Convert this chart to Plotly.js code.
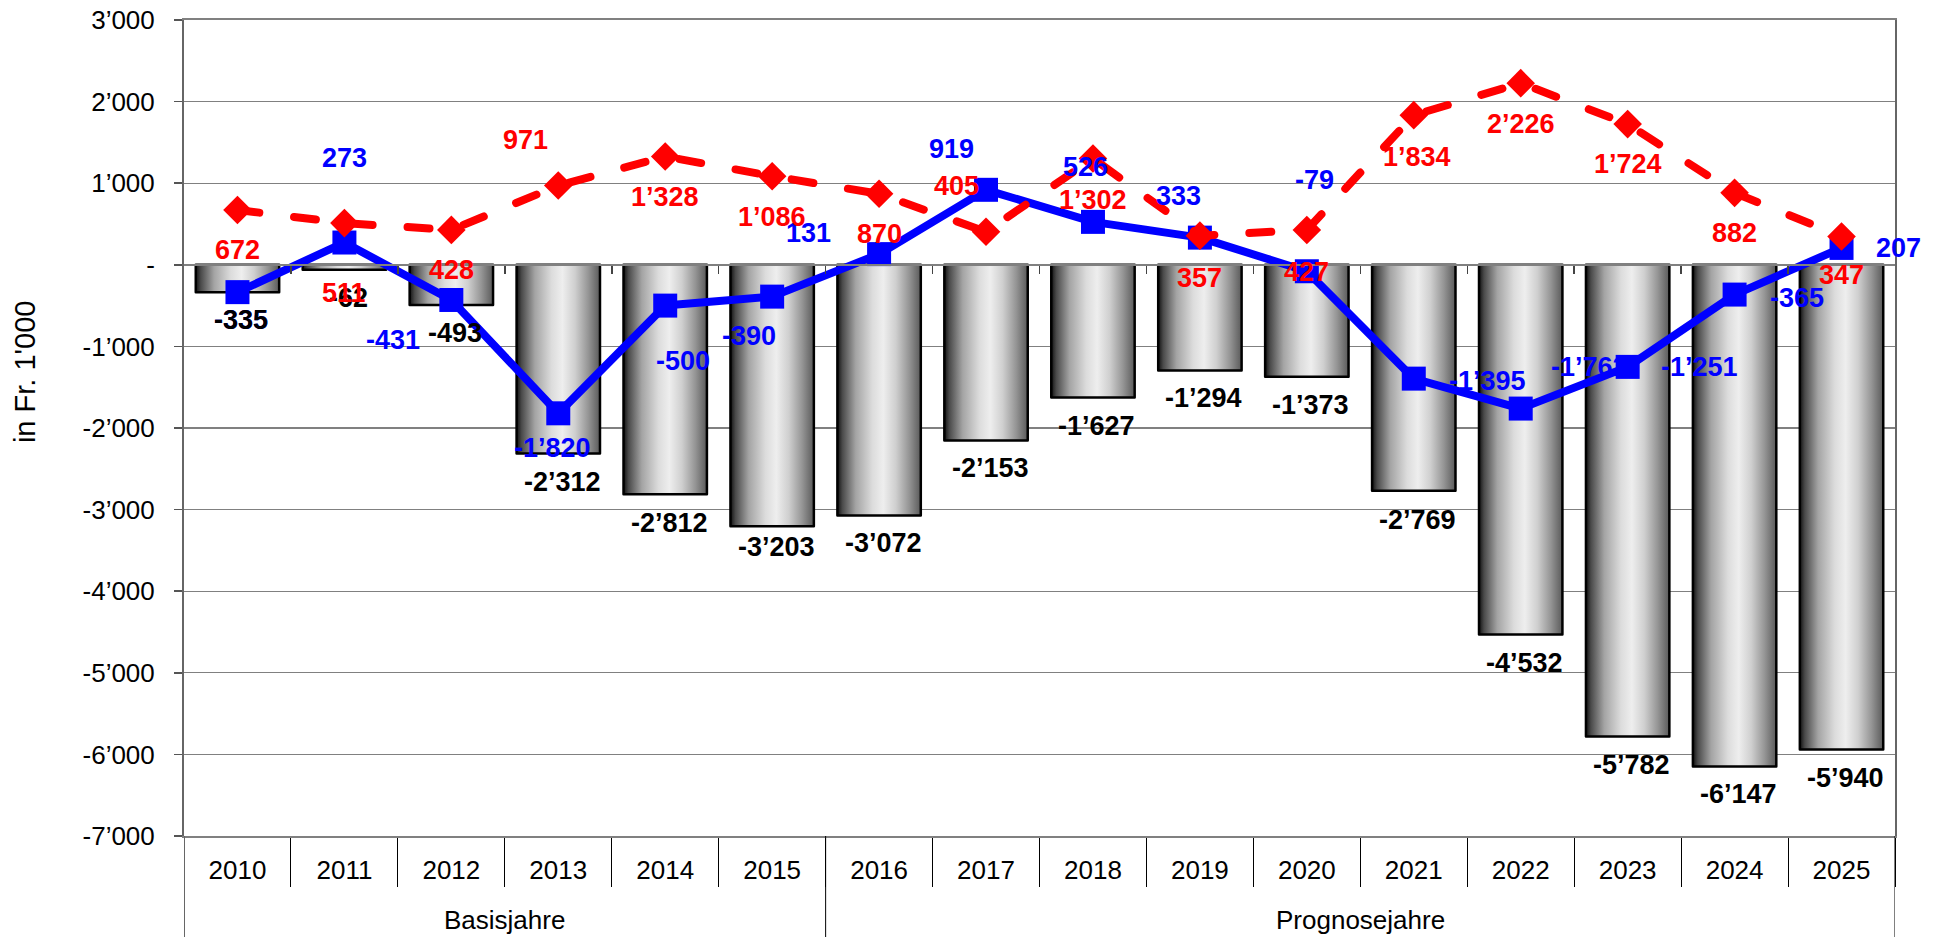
<!DOCTYPE html>
<html>
<head>
<meta charset="utf-8">
<script src="https://cdn.plot.ly/plotly-3.0.1.min.js"></script>
<style>
html,body{margin:0;padding:0;background:#fff;}
#chart{width:1946px;height:937px;}
.scatterlayer .js-line{stroke-linecap:round;stroke-linejoin:round;}
</style>
</head>
<body>
<div id="chart"></div>
<script>
// ---- data ----
const years = ['2010','2011','2012','2013','2014','2015','2016','2017','2018','2019','2020','2021','2022','2023','2024','2025'];
const groups = ['Basisjahre','Basisjahre','Basisjahre','Basisjahre','Basisjahre','Basisjahre',
  'Prognosejahre','Prognosejahre','Prognosejahre','Prognosejahre','Prognosejahre',
  'Prognosejahre','Prognosejahre','Prognosejahre','Prognosejahre','Prognosejahre'];
const barValues = [-335,-62,-493,-2312,-2812,-3203,-3072,-2153,-1627,-1294,-1373,-2769,-4532,-5782,-6147,-5940];
const blueValues = [-335,273,-431,-1820,-500,-390,131,919,526,333,-79,-1395,-1762,-1251,-365,207];
const redValues = [672,511,428,971,1328,1086,870,405,1302,357,427,1834,2226,1724,882,347];
const yTickValues = [-7000,-6000,-5000,-4000,-3000,-2000,-1000,0,1000,2000,3000];
const yTickLabels = ['-7’000','-6’000','-5’000','-4’000','-3’000','-2’000','-1’000','-','1’000','2’000','3’000'];
const yTitle = "in Fr. 1'000";

// ---- label placement (pixels: dx right, dy down) ----
const blueLabelOffset = [[4,28],[0,-85],[-58,40],[-6,35],[18,55],[-23,39],[-71,-21],[-35,-41],[-7,-55],[-21,-42],[8,-91],[74,2],[69,-42],[72,0],[62,3],[57,0]];
const redLabelOffset = [[0,40],[0,70],[0,40],[-33,-46],[0,41],[0,41],[0,40],[-30,-46],[0,41],[0,42],[0,42],[3,42],[0,41],[0,40],[0,40],[0,39]];
const barLabelOffset = [[4,28],[4,28],[4,28],[4,29],[4,29],[4,21],[4,28],[4,28],[4,28],[4,28],[4,28],[4,29],[4,28],[4,28],[4,28],[4,28]];

const FONT = 'Liberation Sans, Arial, sans-serif';
const fmt = v => {
  if (v === 0) return '-';
  const s = Math.abs(v).toString().replace(/\B(?=(\d{3})+(?!\d))/g, '’');
  return (v < 0 ? '-' : '') + s;
};
const idx = years.map((_, i) => i);
const halfW = 0.39;
const cylinder = [[0,'#111111'],[0.06,'#4a4a4a'],[0.22,'#a4a4a4'],[0.42,'#dcdcdc'],[0.55,'#eeeeee'],[0.7,'#cfcfcf'],[0.86,'#959595'],[1,'#5a5a5a']];

const traces = [];
// bars drawn as gradient-filled shapes on the numeric axis
barValues.forEach((v, i) => {
  traces.push({
    type: 'scatter', xaxis: 'x', yaxis: 'y',
    x: [i - halfW, i - halfW, i + halfW, i + halfW, i - halfW],
    y: [0, v, v, 0, 0],
    mode: 'lines', fill: 'toself',
    fillgradient: {type: 'horizontal', colorscale: cylinder, start: i - halfW, stop: i + halfW},
    line: {color: '#000000', width: 2.5},
    hoverinfo: 'skip', showlegend: false
  });
});
traces.push({
  type: 'scatter', xaxis: 'x', yaxis: 'y', x: idx, y: blueValues,
  mode: 'lines+markers', line: {color: '#0000FF', width: 8},
  marker: {symbol: 'square', size: 24, color: '#0000FF'},
  showlegend: false, cliponaxis: false
});
traces.push({
  type: 'scatter', xaxis: 'x', yaxis: 'y', x: idx, y: redValues,
  mode: 'lines+markers', line: {color: '#FF0000', width: 8, dash: '22px,35px'},
  marker: {symbol: 'diamond', size: 22, color: '#FF0000'},
  showlegend: false, cliponaxis: false
});
// category axis carrier
traces.push({
  type: 'scatter', xaxis: 'x2', yaxis: 'y', x: years, y: barValues,
  mode: 'markers', marker: {opacity: 0, size: 1}, hoverinfo: 'skip', showlegend: false
});

const annotations = [];
const addLabels = (vals, offs, color) => vals.forEach((v, i) => {
  annotations.push({
    x: i, y: v, xref: 'x', yref: 'y', text: '<b>' + fmt(v) + '</b>', showarrow: false,
    xshift: offs[i][0], yshift: -offs[i][1],
    font: {family: FONT, size: 27, color: color}
  });
});
addLabels(blueValues, blueLabelOffset, '#0000FF');
addLabels(barValues, barLabelOffset, '#000000');
addLabels(redValues, redLabelOffset, '#FF0000');

// group labels and dividers for the two-level category axis
const shapes = [];
const groupNames = [...new Set(groups)];
const boundaries = [-0.5];
groupNames.forEach(g => {
  const first = groups.indexOf(g), last = groups.lastIndexOf(g);
  annotations.push({
    x: (first + last) / 2, xref: 'x', y: -0.103, yref: 'paper', yanchor: 'middle',
    text: g, showarrow: false, font: {family: FONT, size: 26, color: '#000'}
  });
  boundaries.push(last + 0.5);
});
boundaries.forEach(b => shapes.push({
  type: 'line', xref: 'x', yref: 'paper', x0: b, x1: b, y0: 0, y1: -0.125,
  line: {color: b === -0.5 ? '#666' : '#000', width: b === -0.5 ? 2 : 1}
}));
// y axis title
annotations.push({
  x: -0.0929, xref: 'paper', y: 0.5686, yref: 'paper', xanchor: 'center', yanchor: 'middle',
  text: yTitle, textangle: -90, showarrow: false, font: {family: FONT, size: 29, color: '#000'}
});

const layout = {
  width: 1946, height: 937,
  margin: {l: 184, r: 51, t: 20, b: 101},
  paper_bgcolor: '#ffffff', plot_bgcolor: '#ffffff',
  font: {family: FONT, size: 26, color: '#000'},
  showlegend: false,
  xaxis: {
    range: [-0.5, 15.5], anchor: 'free', position: 0.7,
    showline: true, linecolor: '#808080', linewidth: 2,
    tickvals: idx.slice(0, -1).map(i => i + 0.5), ticks: 'outside', ticklen: 8, tickcolor: '#444', tickwidth: 1.5,
    showticklabels: false, showgrid: false, zeroline: false, fixedrange: true
  },
  xaxis2: {
    type: 'category', overlaying: 'x', anchor: 'y', side: 'bottom',
    range: [-0.5, 15.5],
    showline: true, linecolor: '#808080', linewidth: 2, mirror: true,
    ticks: 'outside', tickson: 'boundaries', ticklen: 49, tickcolor: '#000', tickwidth: 1,
    ticklabelstandoff: 10,
    tickfont: {family: FONT, size: 26, color: '#000'},
    showgrid: false, zeroline: false
  },
  yaxis: {
    range: [-7000, 3000], tickvals: yTickValues, ticktext: yTickLabels,
    ticks: 'outside', ticklen: 8, tickcolor: '#555', tickwidth: 1.5,
    showline: true, linecolor: '#666', linewidth: 2, mirror: true,
    showgrid: true, gridcolor: '#808080', gridwidth: 1.3, zeroline: false,
    ticklabelstandoff: 14,
    tickfont: {family: FONT, size: 26, color: '#000'},
    automargin: false
  },
  shapes: shapes,
  annotations: annotations
};

Plotly.newPlot('chart', traces, layout, {displayModeBar: false, staticPlot: true});
</script>
</body>
</html>
